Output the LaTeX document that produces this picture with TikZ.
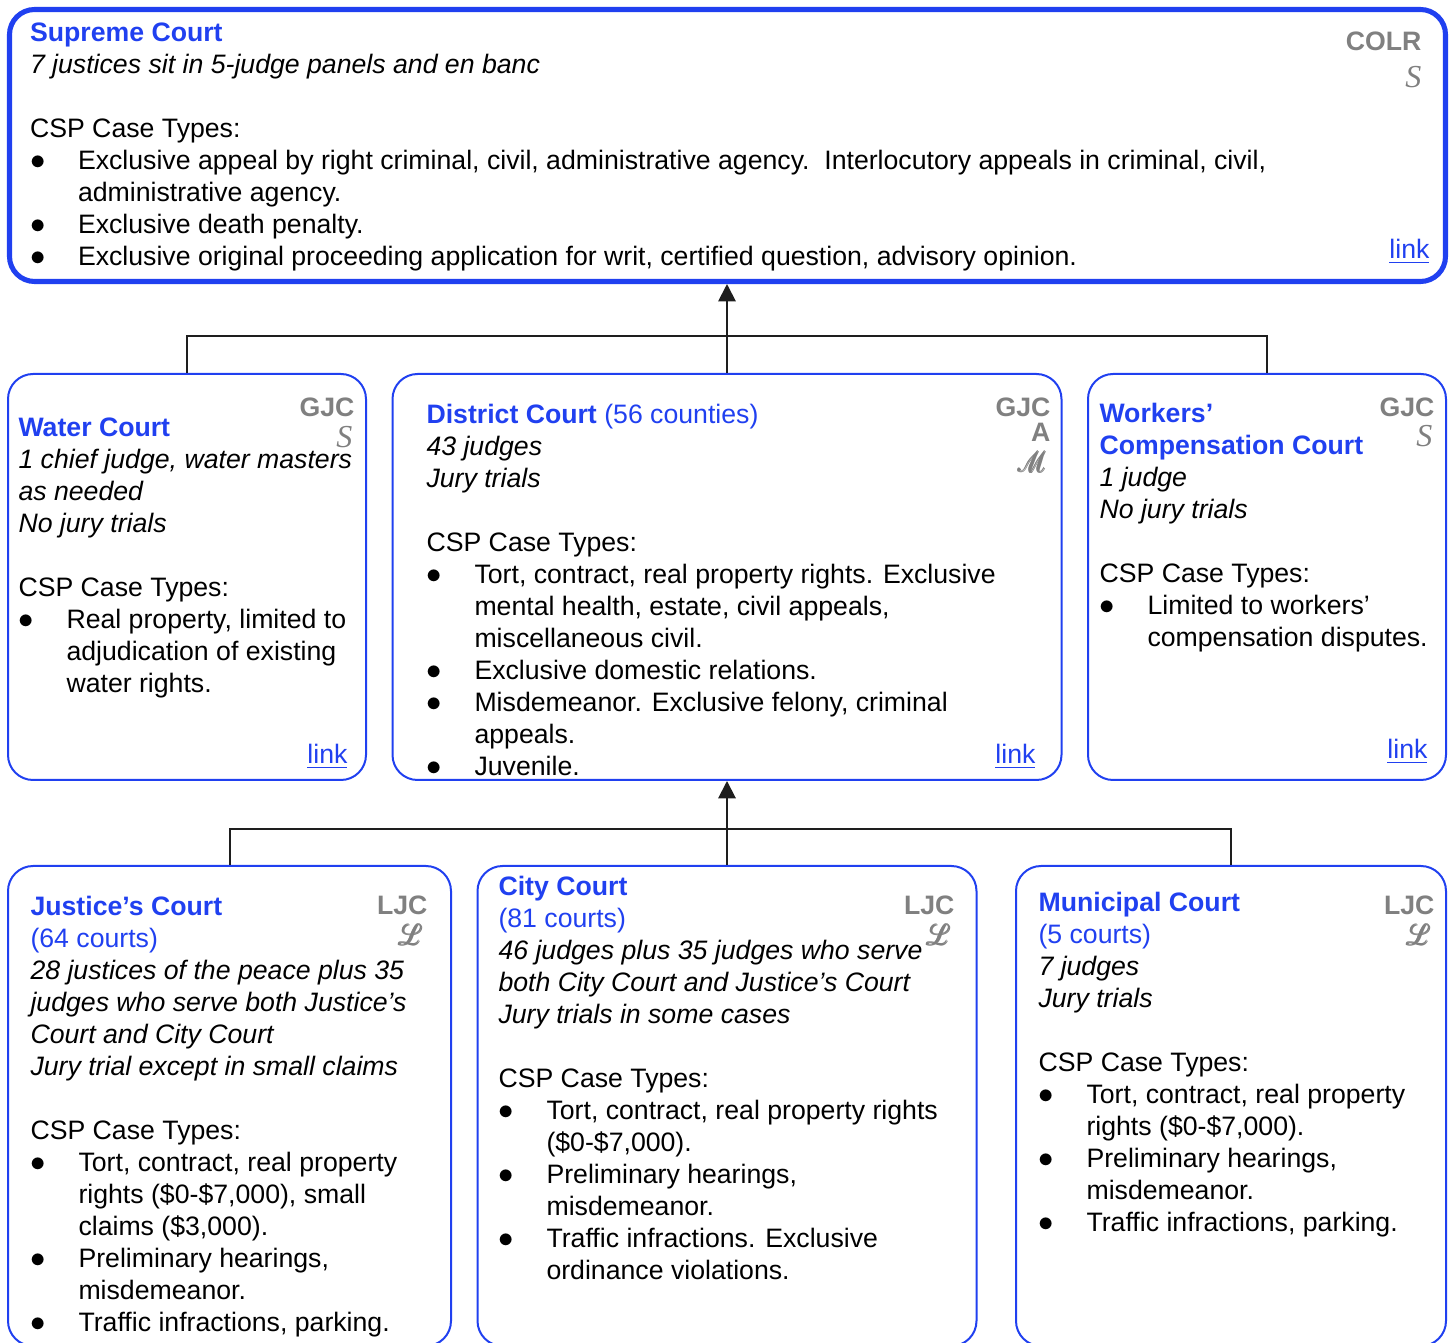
\documentclass[tikz,border=0pt]{standalone}
\usepackage{amsmath}
\usepackage{fontspec}
\setmainfont{Liberation Sans}
\newfontfamily\tagserif{Liberation Serif}
\usepackage{mathrsfs}
\usetikzlibrary{arrows.meta}

\definecolor{courtblue}{RGB}{32,64,240}
\definecolor{taggray}{RGB}{128,128,128}
\definecolor{connector}{RGB}{30,30,30}

% bullet with hanging indent, and the matching indent for wrapped lines
\newcommand{\bul}{\makebox[18pt][l]{\scalebox{1.15}{$\bullet$}}}
\newcommand{\ind}{\hspace*{18pt}}
\newcommand{\ttl}[1]{{\bfseries\color{courtblue}#1}}
\newcommand{\sub}[1]{{\color{courtblue}#1}}
\newcommand{\scr}[1]{\pmb{$\mathscr{#1}$}}

\begin{document}
\begin{tikzpicture}[x=0.375pt,y=-0.375pt,
  courtbox/.style={draw=courtblue, line width=0.75pt, rounded corners=9.4pt, inner sep=0pt},
  topbox/.style={courtbox, line width=1.9pt},
  boxsize/.style 2 args={minimum width={#1*0.375pt}, minimum height={#2*0.375pt}},
  body/.style={anchor=north west, inner sep=0pt, align=left, font=\fontsize{10}{12}\selectfont},
  tag/.style={anchor=base east, inner sep=0pt, text=taggray, font=\fontsize{10}{12}\selectfont\bfseries},
  script/.style={anchor=base east, inner sep=0pt, text=taggray, font=\fontsize{12}{12}\selectfont\tagserif\itshape},
  scriptcap/.style={anchor=base east, inner sep=0pt, text=taggray, font=\fontsize{10.5}{12}\selectfont, xscale=0.95, xslant=-0.3, transform shape},
  lnk/.style={anchor=base east, inner sep=0pt, text=courtblue, font=\fontsize{10}{12}\selectfont},
  conn/.style={draw=connector, line width=0.75pt},
  uparrow/.style={conn, -{Triangle[width=6.5pt,length=6.5pt]}}
]
\useasboundingbox (0,0) rectangle (1455,1343);
\clip (0,0) rectangle (1455,1343);

% ---- boxes ----
\node[topbox, boxsize={1436}{272}] (supreme) at (727.5,145.5) {};
\node[courtbox, boxsize={358}{406}] (water) at (187,577) {};
\node[courtbox, boxsize={669}{406}] (district) at (727,577) {};
\node[courtbox, boxsize={358}{406}] (workers) at (1267,577) {};
\node[courtbox, boxsize={443}{480}] (justice) at (229.5,1106) {};
\node[courtbox, boxsize={499}{480}] (city) at (727,1106) {};
\node[courtbox, boxsize={430}{480}] (municipal) at (1231,1106) {};

% ---- connectors ----
\coordinate (j1) at (727,336);
\coordinate (j2) at (727,829);
\draw[conn] (water.north) |- (j1) -| (workers.north);
\draw[conn] (district.north) -- (j1);
\draw[uparrow] (j1) -- (j1 |- supreme.south);
\draw[conn] (justice.north) |- (j2) -| (municipal.north);
\draw[conn] (city.north) -- (j2);
\draw[uparrow] (j2) -- (district.south);

% ---- Supreme Court ----
\node[body] (supremetext) at (29.5,18.6) {\strut\ttl{Supreme Court}\\
\textit{7 justices sit in 5-judge panels and en banc}\\
\strut\\
CSP Case Types:\\
\bul Exclusive appeal by right criminal, civil, administrative agency.\ \ Interlocutory appeals in criminal, civil,\\
\ind administrative agency.\\
\bul Exclusive death penalty.\\
\bul Exclusive original proceeding application for writ, certified question, advisory opinion.};
\node[tag] (supremetag) at (1422,51) {COLR};
\node[script] (supremescr) at (1422,88) {S};
\node[lnk] (supremelink) at (1430,259) {\underline{link}};

% ---- Water Court ----
\node[body] (watertext) at (18,413.6) {\strut\ttl{Water Court}\\
\textit{1 chief judge, water masters}\\
\textit{as needed}\\
\textit{No jury trials}\\
\strut\\
CSP Case Types:\\
\bul Real property, limited to\\
\ind adjudication of existing\\
\ind water rights.};
\node[tag] (watertag) at (355,417) {GJC};
\node[script] (waterscr) at (353,448) {S};
\node[lnk] (waterlink) at (348,764) {\underline{link}};

% ---- District Court ----
\node[body] (districttext) at (426,400.6) {\strut\ttl{District Court} \sub{(56 counties)}\\
\textit{43 judges}\\
\textit{Jury trials}\\
\strut\\
CSP Case Types:\\
\bul Tort, contract, real property rights. Exclusive\\
\ind mental health, estate, civil appeals,\\
\ind miscellaneous civil.\\
\bul Exclusive domestic relations.\\
\bul Misdemeanor. Exclusive felony, criminal\\
\ind appeals.\\
\bul Juvenile.};
\node[tag] (districttag) at (1051,417) {GJC};
\node[tag] (districta) at (1051,442) {A};
\node[scriptcap] (districtscr) at (1053,473) {\scr{M}};
\node[lnk] (districtlink) at (1036,764) {\underline{link}};

% ---- Workers' Compensation Court ----
\node[body] (workerstext) at (1099,399.6) {\strut\ttl{Workers’}\\
\ttl{Compensation Court}\\
\textit{1 judge}\\
\textit{No jury trials}\\
\strut\\
CSP Case Types:\\
\bul Limited to workers’\\
\ind compensation disputes.};
\node[tag] (workerstag) at (1435,417) {GJC};
\node[script] (workersscr) at (1433,447) {S};
\node[lnk] (workerslink) at (1428,759) {\underline{link}};

% ---- Justice's Court ----
\node[body] (justicetext) at (30,892.6) {\strut\ttl{Justice’s Court}\\
\sub{(64 courts)}\\
\textit{28 justices of the peace plus 35}\\
\textit{judges who serve both Justice’s}\\
\textit{Court and City Court}\\
\textit{Jury trial except in small claims}\\
\strut\\
CSP Case Types:\\
\bul Tort, contract, real property\\
\ind rights (\$0-\$7,000), small\\
\ind claims (\$3,000).\\
\bul Preliminary hearings,\\
\ind misdemeanor.\\
\bul Traffic infractions, parking.};
\node[tag] (justicetag) at (428,915) {LJC};
\node[scriptcap] (justicescr) at (429,946) {\scr{L}};

% ---- City Court ----
\node[body] (citytext) at (498,872.6) {\strut\ttl{City Court}\\
\sub{(81 courts)}\\
\textit{46 judges plus 35 judges who serve}\\
\textit{both City Court and Justice’s Court}\\
\textit{Jury trials in some cases}\\
\strut\\
CSP Case Types:\\
\bul Tort, contract, real property rights\\
\ind (\$0-\$7,000).\\
\bul Preliminary hearings,\\
\ind misdemeanor.\\
\bul Traffic infractions. Exclusive\\
\ind ordinance violations.};
\node[tag] (citytag) at (955,915) {LJC};
\node[scriptcap] (cityscr) at (957,946) {\scr{L}};

% ---- Municipal Court ----
\node[body] (municipaltext) at (1038,888.6) {\strut\ttl{Municipal Court}\\
\sub{(5 courts)}\\
\textit{7 judges}\\
\textit{Jury trials}\\
\strut\\
CSP Case Types:\\
\bul Tort, contract, real property\\
\ind rights (\$0-\$7,000).\\
\bul Preliminary hearings,\\
\ind misdemeanor.\\
\bul Traffic infractions, parking.};
\node[tag] (municipaltag) at (1435,915) {LJC};
\node[scriptcap] (municipalscr) at (1437,946) {\scr{L}};
\end{tikzpicture}
\end{document}
